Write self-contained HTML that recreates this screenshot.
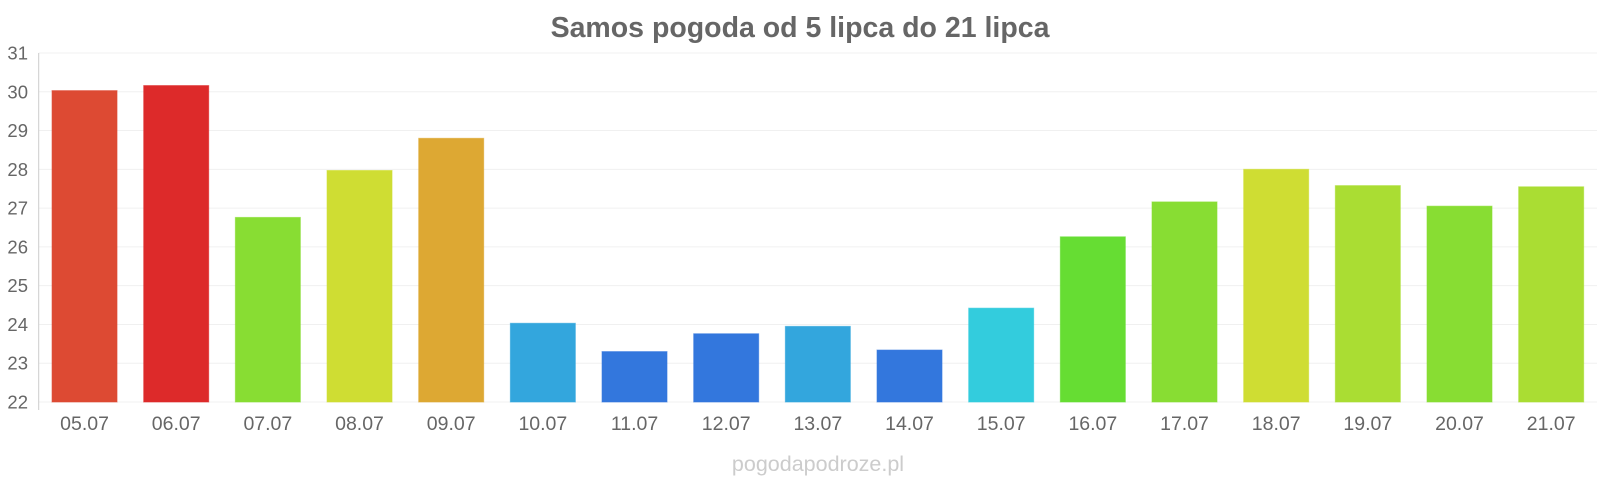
<!DOCTYPE html>
<html><head><meta charset="utf-8"><style>
html,body{margin:0;padding:0;background:#fff;}
svg{display:block;font-family:"Liberation Sans",Arial,sans-serif;}
</style></head><body>
<svg id="chart" width="1600" height="480" viewBox="0 0 1600 480">
<text x="800" y="37" text-anchor="middle" font-size="28.5" font-weight="bold" fill="#666">Samos pogoda od 5 lipca do 21 lipca</text>
<text x="818" y="471" text-anchor="middle" font-size="21.5" fill="#ccc">pogodapodroze.pl</text>
<g id="grid"></g><g id="bars"></g><g id="axes"></g>
</svg>
<script>
const categories=["05.07","06.07","07.07","08.07","09.07","10.07","11.07","12.07","13.07","14.07","15.07","16.07","17.07","18.07","19.07","20.07","21.07"];
const values=[30.03,30.16,26.76,27.97,28.8,24.03,23.3,23.76,23.95,23.34,24.42,26.26,27.16,28.0,27.58,27.05,27.55];
const colors=["#dd4a33","#dd2a2a","#88dd33","#cfdd33","#dda833","#33a6dd","#3377dd","#3377dd","#33a6dd","#3377dd","#33ccdd","#66dd33","#88dd33","#cfdd33","#aadd33","#88dd33","#aadd33"];
const yTicks=[22,23,24,25,26,27,28,29,30,31];
const NS="http://www.w3.org/2000/svg";
const x0=38.7,x1=1597,yBase=402,yTop=53,yMin=22,yMax=31;
const band=(x1-x0)/categories.length;
const y=v=>yBase-(v-yMin)/(yMax-yMin)*(yBase-yTop);
const xc=i=>x0+band*(i+0.5);
const grid=document.getElementById('grid'),bars=document.getElementById('bars'),axes=document.getElementById('axes');
function mk(t,a,p){const e=document.createElementNS(NS,t);for(const k in a)e.setAttribute(k,a[k]);p.appendChild(e);return e;}
yTicks.forEach(t=>{
 const l=mk('line',{x1:x0,x2:x1,y1:y(t),y2:y(t),stroke:'#f0f0f0','stroke-width':1},grid);
 
 
 const tx=mk('text',{x:28,y:y(t)+6.5,'text-anchor':'end','font-size':18.5,fill:'#666'},axes);
 tx.textContent=t;
 
 
});
const ax=mk('line',{x1:x0,x2:x0,y1:yTop,y2:yBase+8,stroke:'#ccc','stroke-width':1},axes);


categories.forEach((c,i)=>{
 const w=65,top=y(values[i]);
 const r=mk('rect',{x:xc(i)-w/2,y:top,width:w,height:yBase-top,fill:colors[i],stroke:colors[i],'stroke-opacity':0.6,'stroke-width':1},bars);
 
 
 const tx=mk('text',{x:xc(i),y:430,'text-anchor':'middle','font-size':19.5,fill:'#666'},axes);
 tx.textContent=c;
 
 
});
</script>
</body></html>
